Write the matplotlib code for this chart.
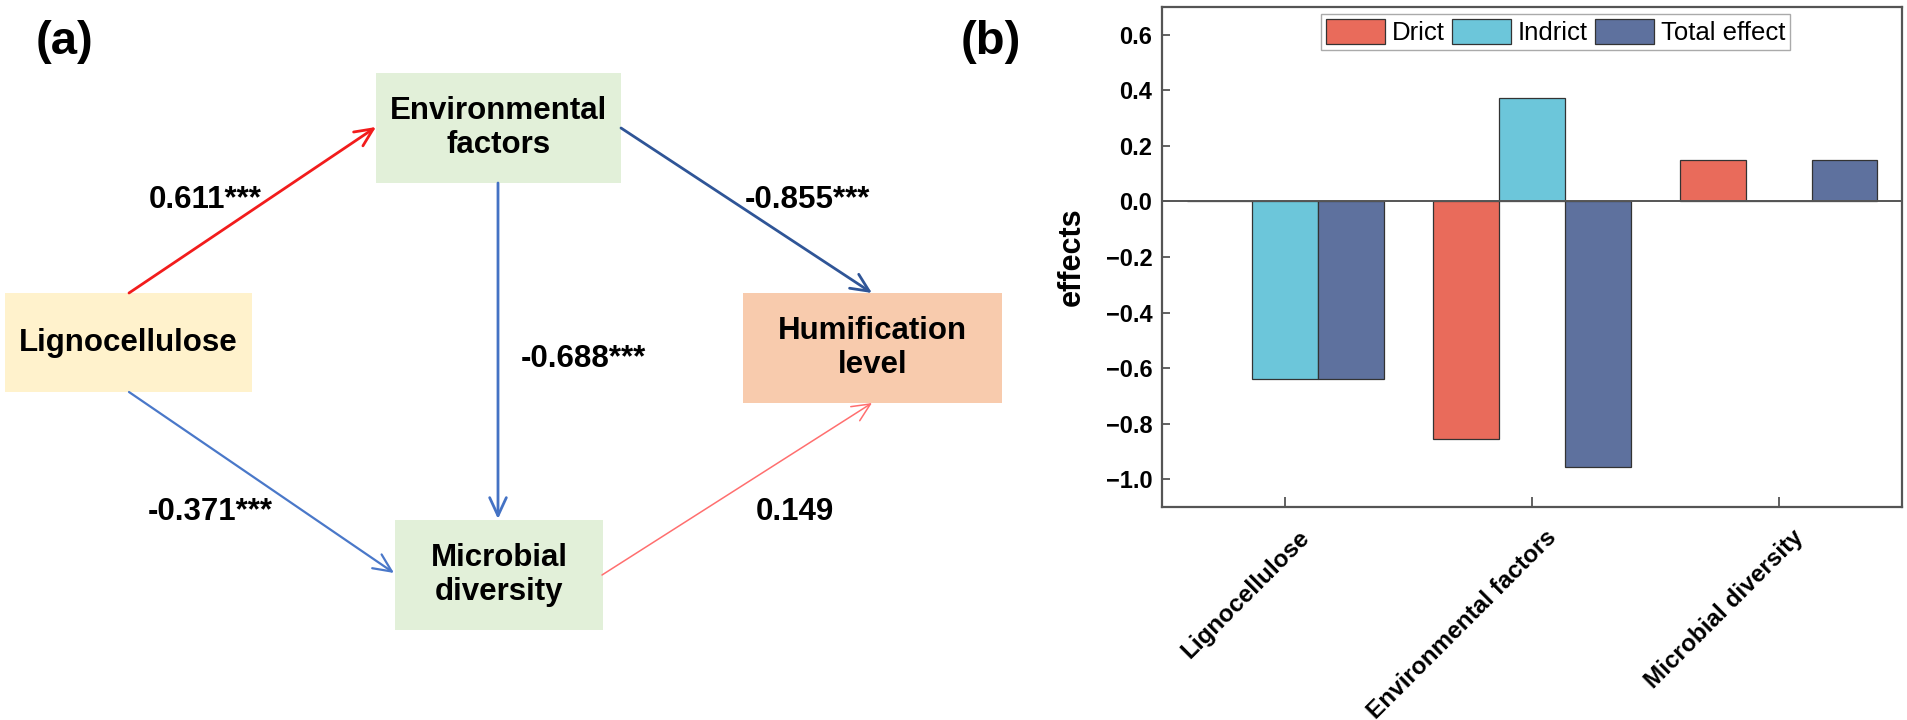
import matplotlib
matplotlib.use("Agg")
import matplotlib.pyplot as plt
from matplotlib.patches import Rectangle, FancyArrowPatch
from matplotlib.transforms import ScaledTranslation
import numpy as np

plt.rcParams['font.family'] = ['Liberation Sans', 'DejaVu Sans']

# ---------------- data ----------------
categories = ["Lignocellulose", "Environmental factors", "Microbial diversity"]
drict = [0.0, -0.855, 0.149]
indrict = [-0.64, 0.372, 0.0]
total_effect = [-0.64, -0.955, 0.149]
series_names = ["Drict", "Indrict", "Total effect"]
series_colors = ["#E96B5B", "#6CC6DA", "#5E719E"]
yticks = [-1.0, -0.8, -0.6, -0.4, -0.2, 0.0, 0.2, 0.4, 0.6]

# path diagram
node_names = ["Lignocellulose", "Environmental\nfactors", "Microbial\ndiversity", "Humification\nlevel"]
node_colors = ["#FFF2CC", "#E2F0D9", "#E2F0D9", "#F8CBAD"]
path_from = [0, 1, 1, 0, 2]
path_to = [1, 3, 2, 2, 3]
path_coef = ["0.611***", "-0.855***", "-0.688***", "-0.371***", "0.149"]
path_colors = ["#F21C1C", "#2F5597", "#4472C4", "#4A78C9", "#FF6F6F"]
path_widths = [2.0, 2.0, 2.0, 1.6, 1.1]

# ---------------- layout (pixel coordinates of the 1908x720 canvas) ----------------
node_boxes = [(5, 293, 247, 99), (376, 73, 245, 110), (395, 520, 208, 110), (743, 293, 259, 110)]
arrow_ends = [((129, 293), (376, 127)),
              ((621, 128), (872, 293)),
              ((498, 183), (498, 519)),
              ((129, 392), (394, 573)),
              ((602, 575), (872, 403))]
label_pos = [(205, 200), (807, 200), (583, 359), (210, 512), (795, 512)]

fig = plt.figure(figsize=(19.08, 7.2), dpi=100)

# ---------------- panel (a) ----------------
ax0 = fig.add_axes([0, 0, 1, 1])
ax0.set_xlim(0, 1908)
ax0.set_ylim(720, 0)
ax0.axis("off")

for (x, y, w, h), name, col in zip(node_boxes, node_names, node_colors):
    ax0.add_patch(Rectangle((x, y), w, h, facecolor=col, edgecolor="none", zorder=2))
    ax0.text(x + w / 2, y + h / 2, name, ha="center", va="center", fontsize=22.5,
             fontweight="bold", linespacing=1.2, zorder=3)

for (p0, p1), col, lw in zip(arrow_ends, path_colors, path_widths):
    arr = FancyArrowPatch(p0, p1, arrowstyle="->,head_length=0.65,head_width=0.3",
                          mutation_scale=20, color=col, lw=lw, shrinkA=0, shrinkB=0,
                          zorder=4)
    ax0.add_patch(arr)

for (x, y), lab in zip(label_pos, path_coef):
    ax0.text(x, y, lab, ha="center", va="center", fontsize=22.5, fontweight="bold", zorder=5)

ax0.text(65, 42, "(a)", ha="center", va="center", fontsize=34, fontweight="bold")
ax0.text(991, 42, "(b)", ha="center", va="center", fontsize=34, fontweight="bold")

# ---------------- panel (b) ----------------
ax = fig.add_axes([1162 / 1908, 1 - 507 / 720, 740 / 1908, 500 / 720])
x = np.arange(len(categories))
w = 0.267
for i, (vals, name, col) in enumerate(zip([drict, indrict, total_effect], series_names, series_colors)):
    ax.bar(x + (i - 1) * w, vals, width=w, color=col, edgecolor="#333333", linewidth=0.9,
           label=name, zorder=2)

ax.axhline(0, color="#555555", lw=1.4, zorder=3)
ax.set_xlim(-0.5, 2.5)
ax.set_ylim(-1.1, 0.7)
ax.set_yticks(yticks)
ax.set_yticklabels([f"{v:.1f}".replace("-", "\u2212") for v in yticks],
                   fontsize=17, fontweight="bold")
ax.set_xticks(x)
ax.set_xticklabels(categories, rotation=45, ha="right", va="top", rotation_mode="anchor",
                   fontsize=17.5, fontweight="bold")
ax.tick_params(axis="y", direction="in", length=6, width=1.3, colors="#555555",
               labelcolor="black", pad=7)
ax.tick_params(axis="x", direction="in", length=7, width=1.3, colors="#555555",
               labelcolor="black", pad=0)
off = ScaledTranslation(0.13, -0.19, fig.dpi_scale_trans)
for lab in ax.get_xticklabels():
    lab.set_transform(lab.get_transform() + off)

for s in ax.spines.values():
    s.set_color("#555555")
    s.set_linewidth(1.6)

ax.set_ylabel("effects", fontsize=22, fontweight="bold")
ax.yaxis.set_label_coords(-0.102, 0.5)

leg = ax.legend(loc="upper center", bbox_to_anchor=(0.532, 0.986), ncol=3, fontsize=18.5,
                frameon=True, fancybox=False, edgecolor="#aaaaaa", framealpha=1,
                borderaxespad=0, borderpad=0.2, handlelength=2.3, handleheight=1.1,
                handletextpad=0.25, columnspacing=0.3)
leg.get_frame().set_linewidth(1.0)

fig.savefig("out.png", dpi=100)
